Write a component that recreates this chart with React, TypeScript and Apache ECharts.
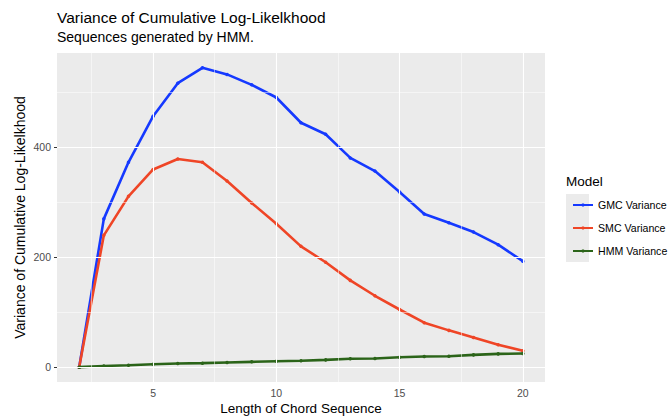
import React, { useEffect, useRef } from "react";
import * as echarts from "echarts";

// Sequence lengths on the x axis
const lengths = [2, 3, 4, 5, 6, 7, 8, 9, 10, 11, 12, 13, 14, 15, 16, 17, 18, 19, 20];

// Variance of cumulative log-likelihood per model
const gmcVariance = [0, 270, 373, 457, 517, 545, 533, 514, 491, 445, 424, 381, 357, 319, 279, 263, 246, 223, 193];
const smcVariance = [0, 240, 311, 360, 379, 373, 339, 299, 261, 220, 191, 158, 130, 105, 81, 67, 54, 41, 30];
const hmmVariance = [0, 2, 3.6, 5.4, 6.6, 7.3, 8.5, 9.7, 10.9, 11.8, 13.3, 15.2, 15.8, 18, 19.4, 20, 22.4, 24.2, 24.8];

const xTicks = [5, 10, 15, 20];
const xMinor = [2.5, 7.5, 12.5, 17.5];
const yTicks = [0, 200, 400];
const yMinor = [100, 300, 500];

const seriesNames = ["GMC Variance", "SMC Variance", "HMM Variance"];
const seriesColors = ["#1539ff", "#ef4526", "#2b6419"];

const FONT = "Liberation Sans, Arial, Helvetica, sans-serif";

export default function App() {
  const ref = useRef<HTMLDivElement>(null);

  useEffect(() => {
    if (!ref.current) return;
    const chart = echarts.init(ref.current, undefined, { renderer: "svg" });

    const values = [gmcVariance, smcVariance, hmmVariance];

    const gridLine = (axis: "xAxis" | "yAxis", v: number, width: number) => ({
      [axis]: v,
      lineStyle: { color: "#ffffff", width, type: "solid" },
    });

    const option: any = {
      animation: false,
      textStyle: { fontFamily: FONT },
      title: {
        text: "Variance of Cumulative Log-Likelkhood",
        subtext: "Sequences generated by HMM.",
        left: 52,
        top: 4,
        itemGap: 5,
        textStyle: { fontFamily: FONT, fontSize: 15.5, fontWeight: "normal", color: "#000000" },
        subtextStyle: { fontFamily: FONT, fontSize: 14, color: "#000000" },
      },
      grid: {
        left: 57,
        right: 123,
        top: 53,
        bottom: 34,
        outerBoundsMode: "none",
        containLabel: false,
        show: true,
        backgroundColor: "#ebebeb",
        borderWidth: 0,
      },
      xAxis: {
        type: "value",
        min: 1.1,
        max: 20.9,
        name: "Length of Chord Sequence",
        nameLocation: "middle",
        nameGap: 19,
        nameMoveOverlap: false,
        nameTextStyle: { fontFamily: FONT, fontSize: 13.5, color: "#000000" },
        axisLine: { show: false },
        splitLine: { show: false },
        axisTick: { show: true, length: 3, customValues: xTicks, lineStyle: { color: "#333333" } },
        axisLabel: { customValues: xTicks, margin: 5, fontSize: 10.5, color: "#4d4d4d", fontFamily: FONT },
      },
      yAxis: {
        type: "value",
        min: -27,
        max: 572,
        name: "Variance of Cumulative Log-Likelkhood",
        nameLocation: "middle",
        nameGap: 30,
        nameMoveOverlap: false,
        nameTextStyle: { fontFamily: FONT, fontSize: 14, color: "#000000" },
        axisLine: { show: false },
        splitLine: { show: false },
        axisTick: { show: true, length: 3, customValues: yTicks, lineStyle: { color: "#333333" } },
        axisLabel: { customValues: yTicks, margin: 6, fontSize: 10.5, color: "#4d4d4d", fontFamily: FONT },
      },
      legend: {
        orient: "vertical",
        left: 567,
        top: 193,
        itemWidth: 20,
        itemHeight: 4,
        itemGap: 9,
        data: seriesNames,
        textStyle: { fontFamily: FONT, fontSize: 10.6, lineHeight: 14, color: "#000000" },
      },
      graphic: [
        {
          type: "text",
          left: 566,
          top: 174,
          style: { text: "Model", fontFamily: FONT, fontSize: 13.5, fill: "#000000" },
        },
        {
          type: "rect",
          left: 566,
          top: 194,
          shape: { width: 23, height: 68 },
          style: { fill: "#ebebeb" },
          z: -1,
        },
      ],
      series: [
        {
          type: "line",
          name: "__grid",
          data: [],
          silent: true,
          z: 1,
          markLine: {
            silent: true,
            symbol: "none",
            label: { show: false },
            data: [
              ...xMinor.map((v) => gridLine("xAxis", v, 0.5)),
              ...yMinor.map((v) => gridLine("yAxis", v, 0.5)),
              ...xTicks.map((v) => gridLine("xAxis", v, 1.1)),
              ...yTicks.map((v) => gridLine("yAxis", v, 1.1)),
            ],
          },
        },
        ...seriesNames.map((name, i) => ({
          type: "line",
          name,
          z: 2 + i,
          data: lengths.map((x, j) => [x, values[i][j]]),
          showSymbol: true,
          symbol: "circle",
          symbolSize: 3.5,
          lineStyle: { color: seriesColors[i], width: 2.6 },
          itemStyle: { color: seriesColors[i] },
          emphasis: { disabled: true },
        })),
      ],
    };

    chart.setOption(option);
    return () => chart.dispose();
  }, []);

  return <div ref={ref} style={{ width: 668, height: 416, position: "absolute", left: 0, top: 0 }} />;
}
